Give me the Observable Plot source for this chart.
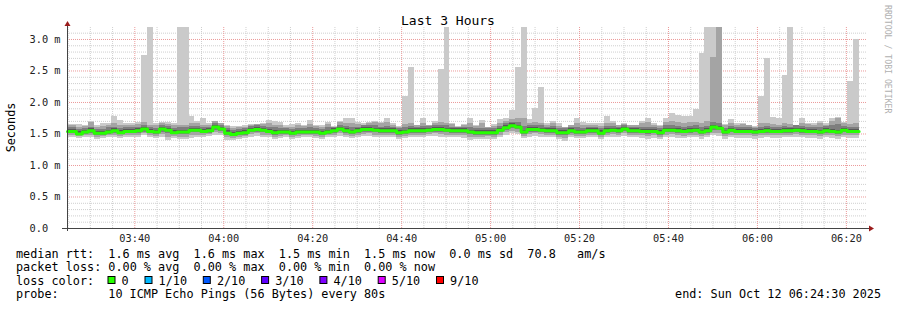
<!DOCTYPE html>
<html><head><meta charset="utf-8">
<script src="https://cdn.jsdelivr.net/npm/d3@7"></script>
<script src="https://cdn.jsdelivr.net/npm/@observablehq/plot@0.6"></script>
<style>
html,body{margin:0;padding:0;background:#fff;}
#chart svg{display:block;}
</style></head><body><div id="chart"></div>
<script>
// ---------- data ----------
const title = "Last 3 Hours";
const yLabel = "Seconds";
const day = "2025-10-12";
const firstColumnStart = "03:24:12";   // left edge of first 80 s column
const viewStart = "03:24:52", viewEnd = "06:24:45";
const stepSeconds = 80;
const xTickLabels = ["03:40","04:00","04:20","04:40","05:00","05:20","05:40","06:00","06:20"];
const yTicks = [0, 0.5, 1.0, 1.5, 2.0, 2.5, 3.0];
const yMax = 3.19;

// smoke percentiles per column (ms), 10 pings sorted: p1 (min) ... p10 (max)
const median = [1.54,1.54,1.50,1.53,1.55,1.51,1.51,1.53,1.55,1.52, 1.54,1.54,1.55,1.58,1.54,1.53,1.58,1.56,1.52,1.53,
 1.53,1.56,1.56,1.54,1.55,1.61,1.58,1.51,1.49,1.51, 1.52,1.56,1.57,1.56,1.54,1.52,1.53,1.53,1.51,1.53,
 1.53,1.53,1.53,1.51,1.53,1.55,1.58,1.55,1.53,1.55, 1.57,1.57,1.56,1.55,1.55,1.55,1.52,1.53,1.55,1.55,
 1.55,1.56,1.57,1.57,1.56,1.55,1.55,1.55,1.53,1.52, 1.52,1.52,1.52,1.56,1.60,1.63,1.61,1.53,1.57,1.57,
 1.56,1.55,1.55,1.52,1.52,1.55,1.53,1.53,1.55,1.55, 1.51,1.55,1.56,1.55,1.58,1.55,1.55,1.54,1.54,1.54,
 1.52,1.56,1.56,1.55,1.54,1.55,1.56,1.53,1.55,1.61, 1.59,1.53,1.56,1.54,1.54,1.54,1.53,1.54,1.55,1.54,
 1.54,1.55,1.55,1.56,1.55,1.54,1.54,1.53,1.55,1.54, 1.53,1.56,1.54,1.54];
const p10 = [1.65,1.65,1.65,1.64,1.70,1.64,1.66,1.67,1.77,1.71, 1.66,1.66,1.68,2.75,3.40,1.67,1.69,1.68,1.67,3.40,
 3.40,1.77,1.70,1.75,1.67,1.68,1.66,1.64,1.62,1.62, 1.63,1.65,1.65,1.67,1.71,1.70,1.68,1.63,1.65,1.66,
 1.64,1.71,1.64,1.64,1.69,1.62,1.70,1.75,1.75,1.69, 1.66,1.69,1.70,1.69,1.74,1.66,1.62,2.10,2.56,1.64,
 1.74,1.64,1.70,2.52,3.40,1.67,1.62,1.65,1.74,1.64, 1.71,1.61,1.65,1.73,1.75,1.87,2.56,3.40,1.73,1.91,
 2.23,1.66,1.70,1.66,1.61,1.64,1.74,1.69,1.66,1.67, 1.66,1.77,1.70,1.64,1.66,1.64,1.64,1.70,1.75,1.67,
 1.64,1.75,1.83,1.80,1.77,1.78,1.89,2.78,3.40,3.40, 3.40,1.65,1.73,1.66,1.67,1.64,1.62,2.10,2.70,1.76,
 1.74,2.43,3.40,1.64,1.74,1.67,1.66,1.70,1.66,1.74, 1.76,1.69,2.33,3.00];
const p9 = [1.63,1.63,1.61,1.62,1.68,1.61,1.62,1.64,1.66,1.63, 1.63,1.63,1.65,1.68,1.64,1.63,1.67,1.65,1.63,1.64,
 1.64,1.66,1.66,1.64,1.64,1.70,1.67,1.62,1.59,1.60, 1.61,1.64,1.65,1.65,1.66,1.64,1.64,1.61,1.61,1.63,
 1.62,1.65,1.62,1.61,1.65,1.60,1.68,1.67,1.66,1.65, 1.64,1.66,1.68,1.66,1.68,1.64,1.61,1.65,1.66,1.63,
 1.67,1.64,1.67,1.68,1.67,1.65,1.61,1.64,1.66,1.62, 1.66,1.60,1.62,1.66,1.70,1.73,1.74,1.74,1.67,1.68,
 1.67,1.64,1.67,1.62,1.60,1.63,1.67,1.63,1.64,1.64, 1.62,1.67,1.66,1.63,1.65,1.63,1.63,1.66,1.68,1.64,
 1.62,1.69,1.70,1.68,1.66,1.69,1.68,1.66,1.70,2.71, 3.40,1.63,1.67,1.64,1.65,1.63,1.61,1.66,1.66,1.65,
 1.64,1.66,1.65,1.63,1.67,1.65,1.64,1.66,1.64,1.70, 1.75,1.66,1.65,1.66];
const p8 = [1.60,1.60,1.57,1.59,1.61,1.57,1.57,1.60,1.61,1.58, 1.60,1.60,1.61,1.64,1.60,1.59,1.64,1.62,1.59,1.60,
 1.60,1.62,1.62,1.60,1.61,1.67,1.64,1.58,1.55,1.57, 1.58,1.62,1.63,1.62,1.61,1.60,1.59,1.58,1.57,1.59,
 1.59,1.60,1.59,1.57,1.60,1.61,1.64,1.62,1.60,1.61, 1.63,1.63,1.63,1.61,1.62,1.61,1.58,1.60,1.62,1.61,
 1.62,1.62,1.63,1.64,1.63,1.61,1.60,1.61,1.60,1.58, 1.59,1.58,1.58,1.62,1.66,1.69,1.68,1.62,1.63,1.64,
 1.63,1.61,1.62,1.58,1.58,1.61,1.60,1.59,1.61,1.61, 1.58,1.62,1.62,1.61,1.64,1.61,1.61,1.61,1.61,1.60,
 1.58,1.63,1.63,1.62,1.61,1.62,1.63,1.60,1.62,1.68, 1.67,1.59,1.62,1.60,1.61,1.60,1.59,1.61,1.62,1.60,
 1.61,1.62,1.61,1.63,1.62,1.60,1.61,1.61,1.62,1.63, 1.65,1.62,1.61,1.61];
const p7 = [1.57,1.57,1.54,1.56,1.58,1.54,1.54,1.56,1.58,1.55, 1.57,1.57,1.58,1.61,1.57,1.56,1.61,1.59,1.56,1.56,
 1.56,1.59,1.59,1.57,1.58,1.64,1.61,1.55,1.52,1.54, 1.55,1.59,1.60,1.59,1.57,1.56,1.56,1.56,1.54,1.56,
 1.56,1.56,1.56,1.54,1.56,1.58,1.61,1.58,1.56,1.58, 1.60,1.60,1.59,1.58,1.58,1.58,1.55,1.56,1.58,1.58,
 1.58,1.59,1.60,1.60,1.59,1.58,1.58,1.58,1.56,1.55, 1.55,1.55,1.55,1.59,1.63,1.66,1.64,1.56,1.60,1.60,
 1.59,1.58,1.58,1.55,1.55,1.58,1.56,1.56,1.58,1.58, 1.55,1.58,1.59,1.58,1.61,1.58,1.58,1.57,1.57,1.57,
 1.55,1.59,1.59,1.58,1.57,1.58,1.59,1.56,1.58,1.64, 1.62,1.56,1.59,1.57,1.57,1.57,1.56,1.57,1.58,1.57,
 1.57,1.58,1.58,1.59,1.58,1.57,1.57,1.56,1.58,1.57, 1.56,1.59,1.57,1.57];
const p4 = [1.52,1.52,1.48,1.51,1.53,1.49,1.49,1.51,1.53,1.50, 1.52,1.52,1.53,1.56,1.52,1.51,1.56,1.54,1.50,1.51,
 1.51,1.54,1.54,1.52,1.53,1.59,1.56,1.49,1.47,1.49, 1.50,1.54,1.55,1.54,1.52,1.50,1.51,1.51,1.49,1.51,
 1.51,1.51,1.51,1.49,1.51,1.53,1.56,1.53,1.51,1.53, 1.55,1.55,1.54,1.53,1.53,1.53,1.50,1.51,1.53,1.53,
 1.53,1.54,1.55,1.55,1.54,1.53,1.53,1.53,1.51,1.50, 1.50,1.50,1.50,1.54,1.58,1.61,1.59,1.51,1.55,1.55,
 1.54,1.53,1.53,1.50,1.50,1.53,1.51,1.51,1.53,1.53, 1.49,1.53,1.54,1.53,1.56,1.53,1.53,1.52,1.52,1.52,
 1.50,1.54,1.54,1.53,1.52,1.53,1.54,1.51,1.53,1.58, 1.57,1.51,1.54,1.52,1.52,1.52,1.51,1.52,1.53,1.52,
 1.52,1.53,1.53,1.54,1.53,1.52,1.52,1.51,1.53,1.52, 1.51,1.54,1.52,1.52];
const p3 = [1.50,1.50,1.47,1.49,1.51,1.48,1.48,1.49,1.51,1.49, 1.50,1.51,1.51,1.53,1.50,1.49,1.53,1.50,1.49,1.49,
 1.49,1.52,1.52,1.50,1.51,1.56,1.54,1.47,1.46,1.48, 1.48,1.52,1.53,1.52,1.50,1.48,1.49,1.49,1.48,1.49,
 1.49,1.49,1.49,1.48,1.49,1.51,1.54,1.51,1.49,1.51, 1.53,1.53,1.52,1.51,1.51,1.51,1.48,1.49,1.51,1.51,
 1.51,1.52,1.53,1.53,1.52,1.51,1.51,1.51,1.49,1.48, 1.48,1.48,1.48,1.52,1.56,1.58,1.57,1.49,1.53,1.53,
 1.52,1.51,1.51,1.48,1.47,1.51,1.49,1.49,1.51,1.51, 1.48,1.51,1.52,1.51,1.54,1.51,1.51,1.50,1.49,1.50,
 1.48,1.52,1.52,1.51,1.50,1.51,1.52,1.49,1.51,1.56, 1.55,1.49,1.52,1.50,1.50,1.50,1.49,1.50,1.51,1.50,
 1.50,1.51,1.51,1.52,1.51,1.50,1.50,1.49,1.51,1.50, 1.49,1.52,1.50,1.50];
const p2 = [1.47,1.47,1.46,1.47,1.48,1.45,1.46,1.47,1.48,1.46, 1.47,1.48,1.48,1.50,1.48,1.46,1.49,1.45,1.46,1.45,
 1.45,1.47,1.48,1.47,1.49,1.52,1.50,1.44,1.43,1.45, 1.46,1.49,1.50,1.48,1.47,1.45,1.46,1.47,1.45,1.46,
 1.47,1.47,1.46,1.45,1.47,1.48,1.50,1.48,1.46,1.48, 1.49,1.50,1.48,1.48,1.48,1.48,1.45,1.46,1.48,1.48,
 1.48,1.49,1.50,1.49,1.48,1.48,1.48,1.47,1.45,1.45, 1.45,1.46,1.45,1.48,1.52,1.54,1.53,1.46,1.49,1.50,
 1.49,1.48,1.48,1.45,1.43,1.48,1.46,1.46,1.48,1.48, 1.45,1.48,1.49,1.48,1.50,1.48,1.48,1.47,1.46,1.47,
 1.45,1.48,1.49,1.47,1.46,1.48,1.48,1.46,1.47,1.51, 1.50,1.46,1.48,1.47,1.47,1.47,1.46,1.47,1.48,1.47,
 1.47,1.48,1.48,1.49,1.48,1.47,1.47,1.46,1.48,1.47, 1.46,1.48,1.47,1.47];
const p1 = [1.44,1.44,1.43,1.44,1.45,1.42,1.43,1.44,1.45,1.43, 1.44,1.45,1.44,1.47,1.45,1.43,1.45,1.40,1.43,1.41,
 1.41,1.43,1.44,1.44,1.46,1.48,1.47,1.40,1.40,1.41, 1.43,1.45,1.46,1.44,1.44,1.42,1.43,1.44,1.42,1.43,
 1.44,1.44,1.43,1.42,1.44,1.45,1.46,1.44,1.43,1.44, 1.46,1.46,1.45,1.44,1.45,1.44,1.42,1.43,1.44,1.45,
 1.45,1.46,1.46,1.45,1.45,1.44,1.44,1.43,1.40,1.42, 1.42,1.42,1.41,1.44,1.48,1.50,1.49,1.43,1.45,1.46,
 1.45,1.44,1.44,1.42,1.38,1.44,1.43,1.43,1.44,1.44, 1.41,1.44,1.45,1.44,1.46,1.44,1.44,1.43,1.42,1.43,
 1.41,1.44,1.45,1.43,1.43,1.44,1.44,1.42,1.44,1.47, 1.46,1.42,1.44,1.43,1.43,1.43,1.42,1.43,1.44,1.43,
 1.43,1.44,1.44,1.45,1.44,1.43,1.43,1.42,1.44,1.43, 1.42,1.44,1.43,1.43];

const statLines = [
  "median rtt:  1.6 ms avg  1.6 ms max  1.5 ms min  1.5 ms now  0.0 ms sd  70.8   am/s",
  "packet loss: 0.00 % avg  0.00 % max  0.00 % min  0.00 % now"
];
const lossTitle = "loss color:";
const lossLabels = ["0","1/10","2/10","3/10","4/10","5/10","9/10"];
const lossColors = ["#26ff00","#00b8ff","#0059ff","#5e00ff","#7e00ff","#dd00ff","#ff0000"];
const probeTitle = "probe:";
const probeText = "10 ICMP Echo Pings (56 Bytes) every 80s";
const endText = "end: Sun Oct 12 06:24:30 2025";
const watermark = "RRDTOOL / TOBI OETIKER";

// ---------- build ----------
const T = s => new Date(`${day}T${s}`);
const t0 = T(firstColumnStart);
const cols = median.map((m, k) => ({
  t1: new Date(+t0 + k * stepSeconds * 1000),
  t2: new Date(+t0 + (k + 1) * stepSeconds * 1000),
  m, p1: p1[k], p2: p2[k], p3: p3[k], p4: p4[k], p7: p7[k], p8: p8[k], p9: p9[k], p10: p10[k]
}));
const medPts = cols.map(c => ({t: c.t1, v: c.m}));
medPts.push({t: cols[cols.length - 1].t2, v: median[median.length - 1]});

const xMajor = xTickLabels.map(s => T(s + ":00"));
const xMinor = d3.timeMinute.every(5).range(T(viewStart), T(viewEnd)).filter(d => d.getMinutes() % 20 !== 0);
const yMinor = d3.range(1, 32).map(i => i / 10).filter(v => Math.abs(v * 2 - Math.round(v * 2)) > 1e-6);

const FONT = "DejaVu Sans Mono";
const minorGrid = {stroke: "#cfcfcf", strokeDasharray: "1,1"};
const majorGrid = {stroke: "#eb9a9a", strokeDasharray: "1,1"};
const band = (lo, hi, fill) => Plot.rect(cols, {x1: "t1", x2: "t2", y1: lo, y2: hi, fill, inset: 0, shapeRendering: "crispEdges"});

const chart = Plot.plot({
  width: 897, height: 310,
  marginLeft: 67, marginRight: 30, marginTop: 27, marginBottom: 82,
  style: {fontFamily: FONT, fontSize: "10.3px", color: "#222", background: "#fff", overflow: "visible"},
  x: {type: "time", domain: [T(viewStart), T(viewEnd)], clamp: true, ticks: xMajor,
      tickFormat: d3.timeFormat("%H:%M"), tickSize: 0, tickPadding: 6, label: null},
  y: {domain: [0, yMax], clamp: true, ticks: yTicks,
      tickFormat: d => d === 0 ? "0.0\u00a0\u00a0" : d.toFixed(1) + " m", tickSize: 0, tickPadding: 7, label: null},
  marks: [
    Plot.ruleY(yMinor, minorGrid),
    Plot.ruleX(xMinor, minorGrid),
    Plot.ruleY(yTicks.filter(v => v > 0), majorGrid),
    Plot.ruleX(xMajor, majorGrid),
    band("p1", "p10", "#cacaca"),
    band("p2", "p9", "#a4a4a4"),
    band("p3", "p8", "#7e7e7e"),
    band("p4", "p7", "#585858"),
    Plot.line(medPts, {x: "t", y: "v", curve: "step-after", stroke: "#26ff00", strokeWidth: 3})
  ]
});
document.getElementById("chart").appendChild(chart);

// axes, arrows, texts
const svg = d3.select(chart);
const xs = chart.scale("x"), ys = chart.scale("y");
const x0 = xs.apply(T(viewStart)), x1 = xs.apply(T(viewEnd)), y0 = ys.apply(0), yTop = ys.apply(yMax);
const AX = "#444", AR = "#9b1c1c";
const g = svg.append("g").attr("shape-rendering", "crispEdges");
g.append("line").attr("x1", x0 - 5).attr("x2", x1 + 2).attr("y1", y0 + 0.5).attr("y2", y0 + 0.5).attr("stroke", AX);
g.append("line").attr("x1", x0 + 0.5).attr("x2", x0 + 0.5).attr("y1", y0 + 3).attr("y2", yTop - 2).attr("stroke", AX);
svg.append("path").attr("d", `M${x0 - 2.5},${yTop - 1}L${x0 + 3.5},${yTop - 1}L${x0 + 0.5},${yTop - 6}Z`).attr("fill", AR);
svg.append("path").attr("d", `M${x1 + 2},${y0 - 2.5}L${x1 + 2},${y0 + 3.5}L${x1 + 7},${y0 + 0.5}Z`).attr("fill", AR);

const text = (x, y, s, size, extra = {}) => {
  const t = svg.append("text").text(s)
    .attr("font-family", FONT).attr("font-size", size).attr("fill", extra.fill || "#000")
    .attr("text-anchor", extra.anchor || "start")
    .style("white-space", "pre");
  if (extra.transform) t.attr("transform", extra.transform).attr("x", 0).attr("y", 0);
  else t.attr("x", x).attr("y", y);
  return t;
};
text(448, 24.5, title, 13, {anchor: "middle"});
text(0, 0, yLabel, 11.8, {anchor: "middle", transform: "translate(14.8,127.5) rotate(-90)"});
text(0, 0, watermark, 8.2, {fill: "#b0b0b0", transform: "translate(885,5) rotate(90)"});

const LX = 16, CW = 7.1, FS = 11.8;
text(LX, 257.5, statLines[0], FS);
text(LX, 271, statLines[1], FS);
text(LX, 284.5, lossTitle, FS);
let sx = LX + 13 * CW - 0.8;
lossLabels.forEach((lab, i) => {
  svg.append("rect").attr("x", sx + 0.5).attr("y", 276.5).attr("width", 7).attr("height", 7)
    .attr("fill", lossColors[i]).attr("stroke", "#000").attr("stroke-width", 1);
  const tx = sx + 14.1;
  text(tx, 284.5, lab, FS);
  sx = tx + (lab.length + 2) * CW + 1.6;
});
text(LX, 298, probeTitle, FS);
text(LX + 13 * CW, 298, probeText, FS);
text(881, 298, endText, FS, {anchor: "end"});
</script></body></html>
